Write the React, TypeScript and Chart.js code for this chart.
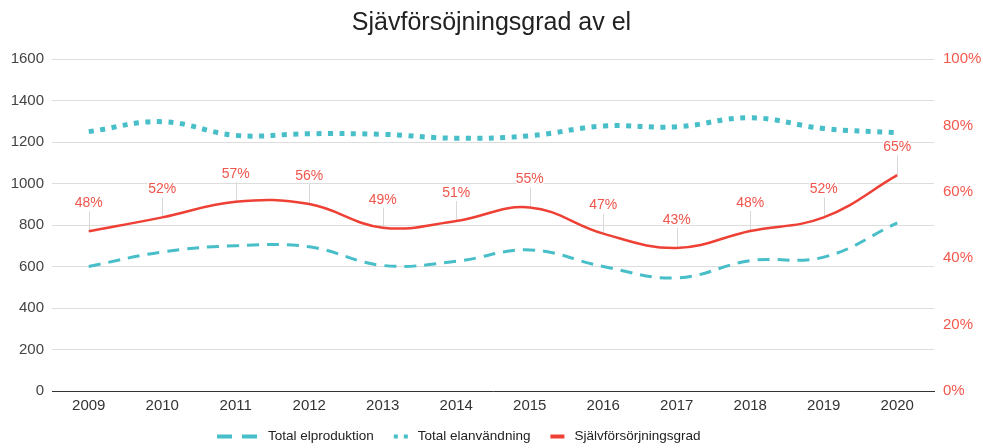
import React, { useEffect, useRef } from "react";
import { Chart, registerables } from "chart.js";

Chart.register(...registerables);

const years = ["2009", "2010", "2011", "2012", "2013", "2014", "2015", "2016", "2017", "2018", "2019", "2020"];
const production = [600, 670, 700, 695, 605, 625, 680, 600, 545, 628, 645, 810];
const consumption = [1250, 1298, 1232, 1240, 1237, 1218, 1230, 1277, 1273, 1317, 1265, 1245];
const ratio = [0.481, 0.523, 0.57, 0.563, 0.492, 0.512, 0.553, 0.474, 0.431, 0.482, 0.523, 0.65];
const seriesNames = ["Total elproduktion", "Total elanvändning", "Självförsörjningsgrad"];
const titleText = "Sjävförsöjningsgrad av el";

const TEAL = "#47bec8";
const RED = "#ee4035";
const LABEL_RED = "#f0554b";
const FONT = "'Liberation Sans', Arial, sans-serif";

const labelPlugin = {
  id: "ratioLabels",
  beforeDatasetsDraw(chart: any) {
    const meta = chart.getDatasetMeta(2);
    const ctx = chart.ctx;
    ctx.save();
    ctx.strokeStyle = "#d9d9d9";
    ctx.lineWidth = 1;
    meta.data.forEach((pt: any) => {
      const x = Math.round(pt.x) + 0.5;
      ctx.beginPath();
      ctx.moveTo(x, pt.y - 20);
      ctx.lineTo(x, pt.y);
      ctx.stroke();
    });
    ctx.restore();
  },
  afterDatasetsDraw(chart: any) {
    const meta = chart.getDatasetMeta(2);
    const ctx = chart.ctx;
    ctx.save();
    ctx.font = `14px ${FONT}`;
    ctx.textAlign = "center";
    ctx.textBaseline = "middle";
    meta.data.forEach((pt: any, i: number) => {
      const txt = Math.round(ratio[i] * 100) + "%";
      ctx.lineWidth = 3;
      ctx.strokeStyle = "#ffffff";
      ctx.strokeText(txt, pt.x, pt.y - 28);
      ctx.fillStyle = LABEL_RED;
      ctx.fillText(txt, pt.x, pt.y - 28);
    });
    ctx.restore();
  },
  afterDraw(chart: any) {
    const ctx = chart.ctx;
    ctx.save();
    ctx.font = `13.5px ${FONT}`;
    ctx.textBaseline = "middle";
    ctx.textAlign = "left";
    const y = 436.5;
    const items = [
      { icon: "dash", text: seriesNames[0] },
      { icon: "dot", text: seriesNames[1] },
      { icon: "solid", text: seriesNames[2] },
    ];
    const iconW = [41, 14, 14];
    const gapIconText = 10;
    const gapItems = 20;
    let x = 217;
    items.forEach((it, i) => {
      ctx.save();
      ctx.lineWidth = 4;
      ctx.lineCap = "butt";
      if (it.icon === "dash") {
        ctx.strokeStyle = TEAL;
        ctx.setLineDash([15, 10]);
      } else if (it.icon === "dot") {
        ctx.strokeStyle = TEAL;
        ctx.setLineDash([4, 6]);
      } else {
        ctx.strokeStyle = RED;
        ctx.setLineDash([]);
      }
      ctx.beginPath();
      ctx.moveTo(x, y);
      ctx.lineTo(x + iconW[i], y);
      ctx.stroke();
      ctx.restore();
      x += iconW[i] + gapIconText;
      ctx.fillStyle = "#222222";
      ctx.fillText(it.text, x, y);
      x += ctx.measureText(it.text).width + gapItems;
    });
    ctx.restore();
  },
};

export default function App() {
  const ref = useRef<HTMLCanvasElement | null>(null);

  useEffect(() => {
    document.body.style.margin = "0";
    const canvas = ref.current;
    if (!canvas) return;
    const chart = new Chart(canvas, {
      type: "line",
      data: {
        labels: years,
        datasets: [
          {
            label: seriesNames[0],
            data: production,
            borderColor: TEAL,
            backgroundColor: TEAL,
            borderWidth: 3,
            borderDash: [12, 8],
            pointRadius: 0,
            tension: 0.4,
            yAxisID: "y",
          },
          {
            label: seriesNames[1],
            data: consumption,
            borderColor: TEAL,
            backgroundColor: TEAL,
            borderWidth: 5,
            borderDash: [5, 6.5],
            borderCapStyle: "butt",
            pointRadius: 0,
            tension: 0.4,
            yAxisID: "y",
          },
          {
            label: seriesNames[2],
            data: ratio,
            borderColor: RED,
            backgroundColor: RED,
            borderWidth: 2.5,
            pointRadius: 0,
            tension: 0.4,
            yAxisID: "y1",
          },
        ],
      },
      options: {
        animation: false,
        responsive: true,
        maintainAspectRatio: false,
        layout: { padding: { top: 0, bottom: 31, left: 0, right: 0 } },
        plugins: {
          legend: { display: false },
          tooltip: { enabled: false },
          title: {
            display: true,
            text: titleText,
            color: "#222222",
            font: { family: FONT, size: 25, weight: "normal" },
            padding: { top: 8, bottom: 21 },
          },
        },
        scales: {
          x: {
            offset: true,
            grid: { display: false, drawTicks: false },
            border: { display: true, color: "#333333", width: 1 },
            ticks: { color: "#333333", padding: 6, font: { family: FONT, size: 15 } },
            afterFit: (s: any) => {
              s.height = 26;
            },
          },
          y: {
            position: "left",
            min: 0,
            max: 1600,
            ticks: {
              stepSize: 200,
              color: "#444444",
              padding: 8,
              font: { family: FONT, size: 15 },
              callback: (v: any) => String(v),
            },
            grid: { color: "#dddddd", lineWidth: 1, drawTicks: false },
            border: { display: false },
            afterFit: (s: any) => {
              s.width = 52;
            },
          },
          y1: {
            position: "right",
            min: 0,
            max: 1,
            ticks: {
              stepSize: 0.2,
              color: "#f4574c",
              padding: 9,
              font: { family: FONT, size: 15 },
              callback: (v: any) => Math.round(Number(v) * 100) + "%",
            },
            grid: { display: false, drawTicks: false },
            border: { display: false },
            afterFit: (s: any) => {
              s.width = 49;
            },
          },
        },
      },
      plugins: [labelPlugin],
    } as any);
    return () => chart.destroy();
  }, []);

  return (
    <div style={{ position: "fixed", left: 0, top: 0, width: 983, height: 448, background: "#ffffff" }}>
      <canvas ref={ref} />
    </div>
  );
}
